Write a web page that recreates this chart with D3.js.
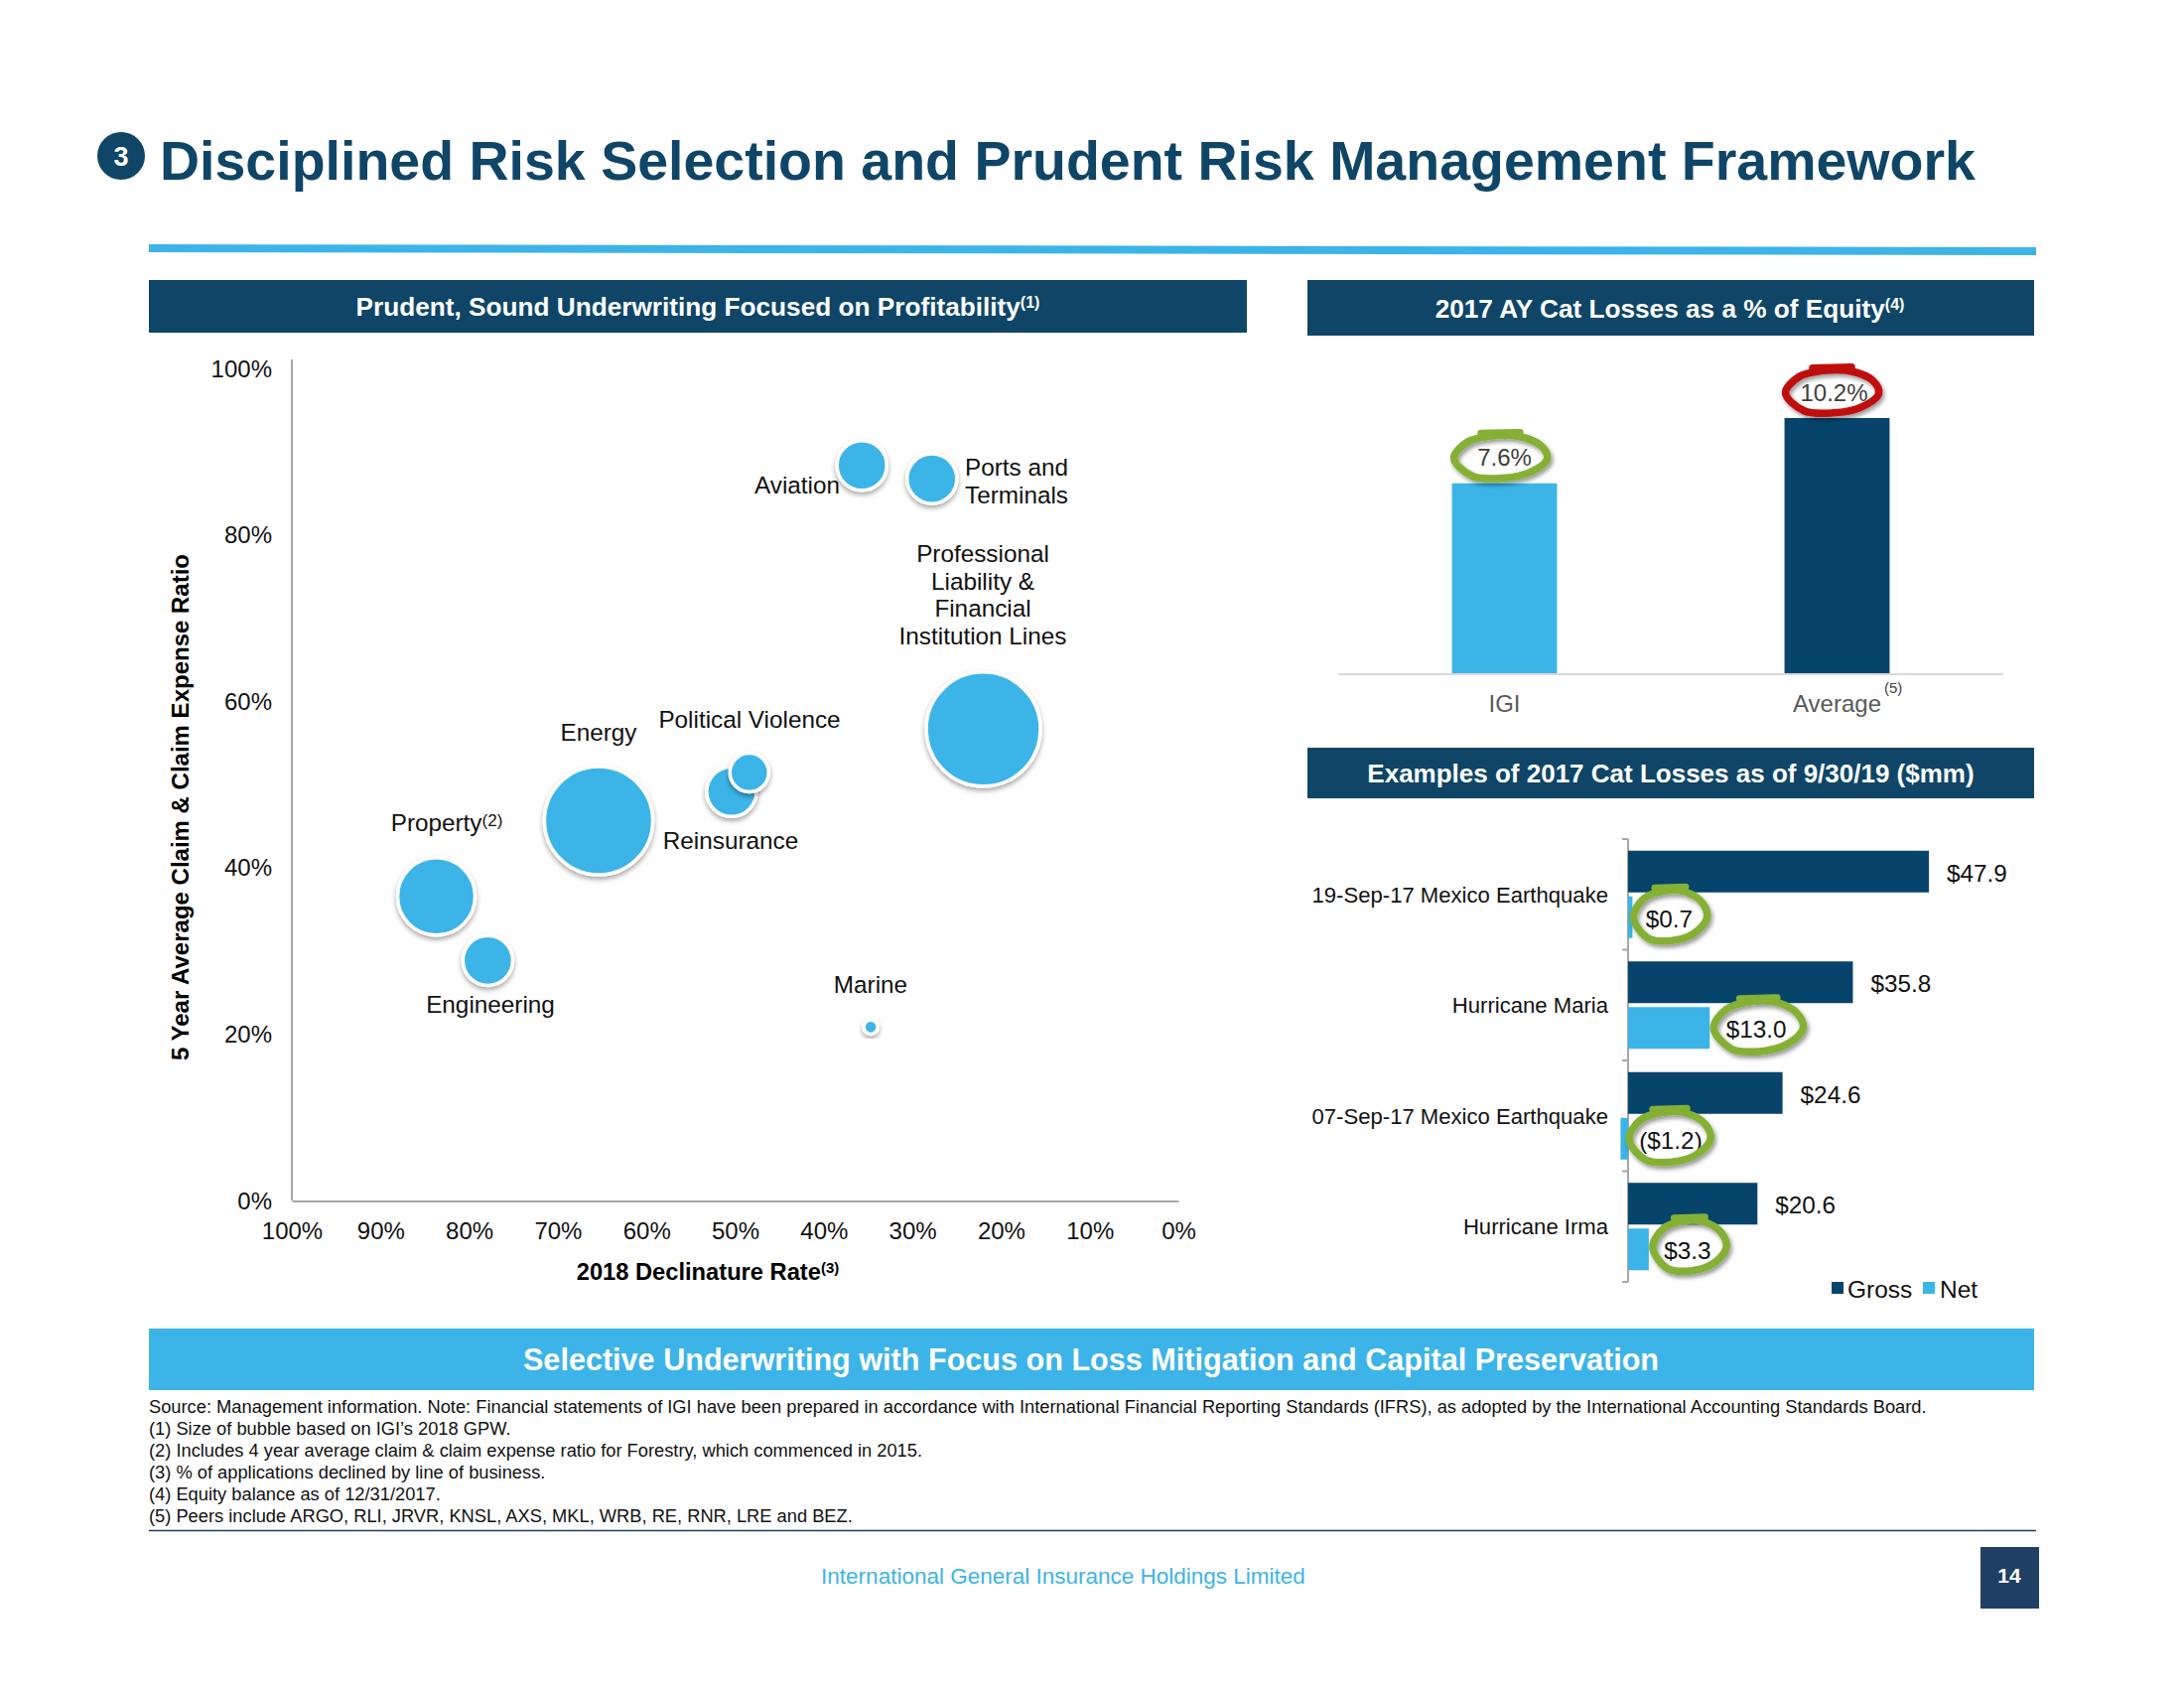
<!DOCTYPE html>
<html><head><meta charset="utf-8">
<script src="https://cdn.jsdelivr.net/npm/d3@7"></script>
<style>html,body{margin:0;background:#fff}svg{display:block}text{font-family:"Liberation Sans",Arial,sans-serif}</style>
</head><body><svg id="c" width="2200" height="1700"></svg>
<script>
const bubbleNames=["Aviation","Ports and Terminals","Professional Liability & Financial Institution Lines","Political Violence","Reinsurance","Energy","Property","Engineering","Marine"];
const declinature=[35.7,27.8,22,48.4,50.4,65.4,83.7,77.9,34.7];
const lossRatio=[88.4,86.8,56.7,51.5,49.2,45.7,36.6,28.9,20.9];
const gpw=[19,19,100,11.5,19,90,46,19,1.5];
const xTicks=[100,90,80,70,60,50,40,30,20,10,0];
const yTicks=[0,20,40,60,80,100];
const equityCats=["IGI","Average"];
const equityVals=[7.6,10.2];
const equityLabels=["7.6%","10.2%"];
const catEvents=["19-Sep-17 Mexico Earthquake","Hurricane Maria","07-Sep-17 Mexico Earthquake","Hurricane Irma"];
const catGross=[47.9,35.8,24.6,20.6];
const catNet=[0.7,13.0,-1.2,3.3];
const grossLabels=["$47.9","$35.8","$24.6","$20.6"];
const netLabels=["$0.7","$13.0","($1.2)","$3.3"];
const notes=["Source: Management information. Note: Financial statements of IGI have been prepared in accordance with International Financial Reporting Standards (IFRS), as adopted by the International Accounting Standards Board.",
"(1) Size of bubble based on IGI’s 2018 GPW.",
"(2) Includes 4 year average claim & claim expense ratio for Forestry, which commenced in 2015.",
"(3) % of applications declined by line of business.",
"(4) Equity balance as of 12/31/2017.",
"(5) Peers include ARGO, RLI, JRVR, KNSL, AXS, MKL, WRB, RE, RNR, LRE and BEZ."];
const NAVY="#0f4567",SKY="#3cb4e8",GREEN="#84b135",RED="#c00d0d";

const svg=d3.select("#c");
const defs=svg.append("defs");
const shadow=(id,dx,dy,b,o)=>{const f=defs.append("filter").attr("id",id).attr("x","-30%").attr("y","-30%").attr("width","160%").attr("height","160%");
 f.append("feDropShadow").attr("dx",dx).attr("dy",dy).attr("stdDeviation",b).attr("flood-color","#000").attr("flood-opacity",o);};
shadow("bs",0,3,2.5,.35);shadow("rs",2,3,2,.4);

function T(x,y,s,o={}){const t=svg.append("text").attr("x",x).attr("y",y).attr("font-size",o.size||22).attr("fill",o.fill||"#000")
 .attr("text-anchor",o.anchor||"start").attr("font-weight",o.bold?"bold":"normal").text(s);
 if(o.rotate)t.attr("transform",`rotate(${o.rotate} ${x} ${y})`);
 if(o.sup){const ts=t.append("tspan").attr("dy",-(o.supDy||8)).attr("font-size",o.supSize||(o.size||22)*.62).text(o.sup);}
 return t;}
function R(x,y,w,h,f){return svg.append("rect").attr("x",x).attr("y",y).attr("width",w).attr("height",h).attr("fill",f);}

// Title
svg.append("circle").attr("cx",122).attr("cy",157).attr("r",24).attr("fill",NAVY);
T(122,167,"3",{size:27,bold:true,fill:"#fff",anchor:"middle"});
T(161,181,"Disciplined Risk Selection and Prudent Risk Management Framework",{size:55.5,bold:true,fill:NAVY});
svg.append("polygon").attr("points","150,246 2051,249 2051,257 150,254").attr("fill",SKY);

// Banners
R(150,282,1106,53,NAVY);
T(703,318,"Prudent, Sound Underwriting Focused on Profitability",{size:26.2,bold:true,fill:"#fff",anchor:"middle",sup:"(1)",supSize:16,supDy:8});
R(1317,282,732,56,NAVY);
T(1682,320,"2017 AY Cat Losses as a % of Equity",{size:26.2,bold:true,fill:"#fff",anchor:"middle",sup:"(4)",supSize:16,supDy:8});
R(1317,753,732,51,NAVY);
T(1683,788,"Examples of 2017 Cat Losses as of 9/30/19 ($mm)",{size:26,bold:true,fill:"#fff",anchor:"middle"});
R(150,1338,1899,62,SKY);
T(1099,1380,"Selective Underwriting with Focus on Loss Mitigation and Capital Preservation",{size:30.6,bold:true,fill:"#fff",anchor:"middle"});

// Bubble chart
const x=d3.scaleLinear().domain([100,0]).range([294,1187]);
const y=d3.scaleLinear().domain([0,100]).range([1209.5,371.5]);
const rs=d3.scaleSqrt().domain([0,100]).range([0,57.5]);
const gx=svg.append("g").attr("transform","translate(0,1209.5)").call(d3.axisBottom(x).tickValues(xTicks).tickSize(0).tickPadding(21).tickFormat(d=>d+"%"));
gx.select(".domain").attr("stroke","#a6a6a6").attr("stroke-width",2);
gx.selectAll("text").attr("font-size",24).attr("fill","#111").attr("font-family",'"Liberation Sans"');
const gy=svg.append("g").attr("transform","translate(294,0)").call(d3.axisLeft(y).tickValues(yTicks).tickSize(0).tickPadding(20).tickFormat(d=>d+"%"));
gy.select(".domain").attr("d","M0,362V1209").attr("stroke","#a6a6a6").attr("stroke-width",2);
gy.selectAll("text").attr("font-size",24).attr("fill","#111").attr("font-family",'"Liberation Sans"');
T(190,813,"5 Year Average Claim & Claim Expense  Ratio",{size:24,bold:true,anchor:"middle",rotate:-90});
T(713,1289,"2018 Declinature Rate",{size:23.7,bold:true,anchor:"middle",sup:"(3)",supSize:15,supDy:7});

const order=[2,5,6,7,4,3,0,1,8];
svg.append("g").selectAll("circle").data(order).join("circle")
 .attr("cx",i=>x(declinature[i])).attr("cy",i=>y(lossRatio[i])).attr("r",i=>rs(gpw[i]))
 .attr("fill",SKY).attr("stroke","#fff").attr("stroke-width",3.5).attr("filter","url(#bs)");
const L={size:24.3,anchor:"middle",fill:"#111"};
T(803,497,"Aviation",L);
T(1024,479,"Ports and",L);T(1024,507,"Terminals",L);
["Professional","Liability &","Financial","Institution Lines"].forEach((s,i)=>T(990,566+i*27.5,s,L));
T(755,733,"Political Violence",L);
T(736,855,"Reinsurance",L);
T(603,746,"Energy",L);
T(450,837,"Property",{...L,sup:"(2)",supSize:17,supDy:5});
T(494,1020,"Engineering",L);
T(877,1000,"Marine",L);

// hand drawn ring: built around a label's anchor
const ringLine=d3.line().curve(d3.curveCatmullRomClosed);
const pending=[];
function ring(cx,cy,rx,ry,col){pending.push([cx,cy,rx,ry,col]);}
function drawRings(){
 const ringG=svg.append("g");
 pending.forEach(([cx,cy,rx,ry,col])=>{
 const pts=[[-1,.08],[-.72,-.62],[-.2,-.9],[.4,-.88],[.88,-.45],[1,.1],[.62,.7],[.02,.95],[-.6,.86]].map(p=>[cx+p[0]*rx,cy+p[1]*ry]);
 ringG.append("path").attr("d",ringLine(pts)).attr("fill","none").attr("stroke",col).attr("stroke-width",7.5).attr("filter","url(#rs)");
 ringG.append("path").attr("d",d3.line()([[cx-rx*.42,cy-ry*1.02],[cx+rx*.42,cy-ry*1.06]])).attr("stroke",col).attr("stroke-width",7).attr("stroke-linecap","round").attr("fill","none");
 });
}

// Equity bars
const bx=d3.scaleBand().domain(equityCats).range([1348,2018]).paddingInner(.684).paddingOuter(.342);
const by=d3.scaleLinear().domain([0,10.2]).range([679,421]);
svg.append("g").selectAll("rect").data(equityCats).join("rect")
 .attr("x",d=>bx(d)).attr("width",bx.bandwidth())
 .attr("y",(d,i)=>by(equityVals[i])).attr("height",(d,i)=>by(0)-by(equityVals[i]))
 .attr("fill",(d,i)=>i?"#06446c":SKY);
svg.append("line").attr("x1",1348).attr("x2",2018).attr("y1",679).attr("y2",679).attr("stroke","#d9d9d9").attr("stroke-width",2);
equityCats.forEach((c,i)=>{
 const cx=bx(c)+bx.bandwidth()/2,yy=by(equityVals[i]);
 ring(cx-(i?5:4),yy-27,47,23,i?RED:GREEN);
 T(cx-(i?3:0),yy-(i?17:18),equityLabels[i],{size:24,fill:"#404040",anchor:"middle"});
 T(cx,717,c,{size:24,fill:"#595959",anchor:"middle"});
});
T(1898,698,"(5)",{size:15,fill:"#404040"});

// Cat loss bars
const hy=d3.scaleBand().domain(catEvents).range([845,1291]);
const hs=d3.scaleBand().domain(["g","n"]).range([0,hy.step()]).paddingInner(.087).paddingOuter(.255);
const hx=d3.scaleLinear().domain([0,47.9]).range([1640,1943]);
const tk=svg.append("g").attr("stroke","#a6a6a6").attr("stroke-width",2).attr("fill","none");
tk.append("path").attr("d",`M${hx(0)},845V1291`);
d3.range(5).forEach(i=>tk.append("path").attr("d",`M${hx(0)-6},${845+i*hy.step()}H${hx(0)}`));
const hg=svg.append("g");
hg.selectAll(".g").data(catEvents).join("rect").attr("x",hx(0)).attr("y",d=>hy(d)+hs("g"))
 .attr("width",(d,i)=>hx(catGross[i])-hx(0)).attr("height",hs.bandwidth()).attr("fill","#06446c");
hg.selectAll(".n").data(catEvents).join("rect").attr("x",(d,i)=>hx(Math.min(0,catNet[i]))).attr("y",d=>hy(d)+hs("n"))
 .attr("width",(d,i)=>Math.abs(hx(catNet[i])-hx(0))).attr("height",hs.bandwidth()).attr("fill",SKY);
catEvents.forEach((c,i)=>{
 const yc=hy(c)+hy.step()/2;
 T(1620,yc+8,c,{size:22.1,anchor:"end",fill:"#111"});
 T(hx(catGross[i])+18,yc-13,grossLabels[i],{size:24.3,fill:"#111"});
 const nx=hx(Math.max(0,catNet[i]))+(i==2?42:i==0?38:i==1?49:41);
 ring(nx,yc+21+(i==3?-2:0),i==2?41:i==1?45:37,27,GREEN);
 T(nx+(i==2?1:i==0?-1:-2),yc+33,netLabels[i],{size:24.3,anchor:"middle",fill:"#111"});
});
R(1845,1291,12,12,"#06446c");
T(1861,1307,"Gross",{size:24.5,fill:"#111"});
R(1937,1291,12,12,SKY);
T(1954,1307,"Net",{size:24.5,fill:"#111"});
drawRings();

// Notes
notes.forEach((s,i)=>T(150,1423+i*22,s,{size:18.3,fill:"#111"}));
svg.append("line").attr("x1",150).attr("x2",2051).attr("y1",1541.5).attr("y2",1541.5).attr("stroke","#1f3f64").attr("stroke-width",1.5);
T(1071,1595,"International General Insurance Holdings Limited",{size:22.5,fill:"#3cb4e8",anchor:"middle"});
R(1995,1558,59,62,"#1f3f64");
T(2024,1594,"14",{size:21,bold:true,fill:"#fff",anchor:"middle"});
</script></body></html>
